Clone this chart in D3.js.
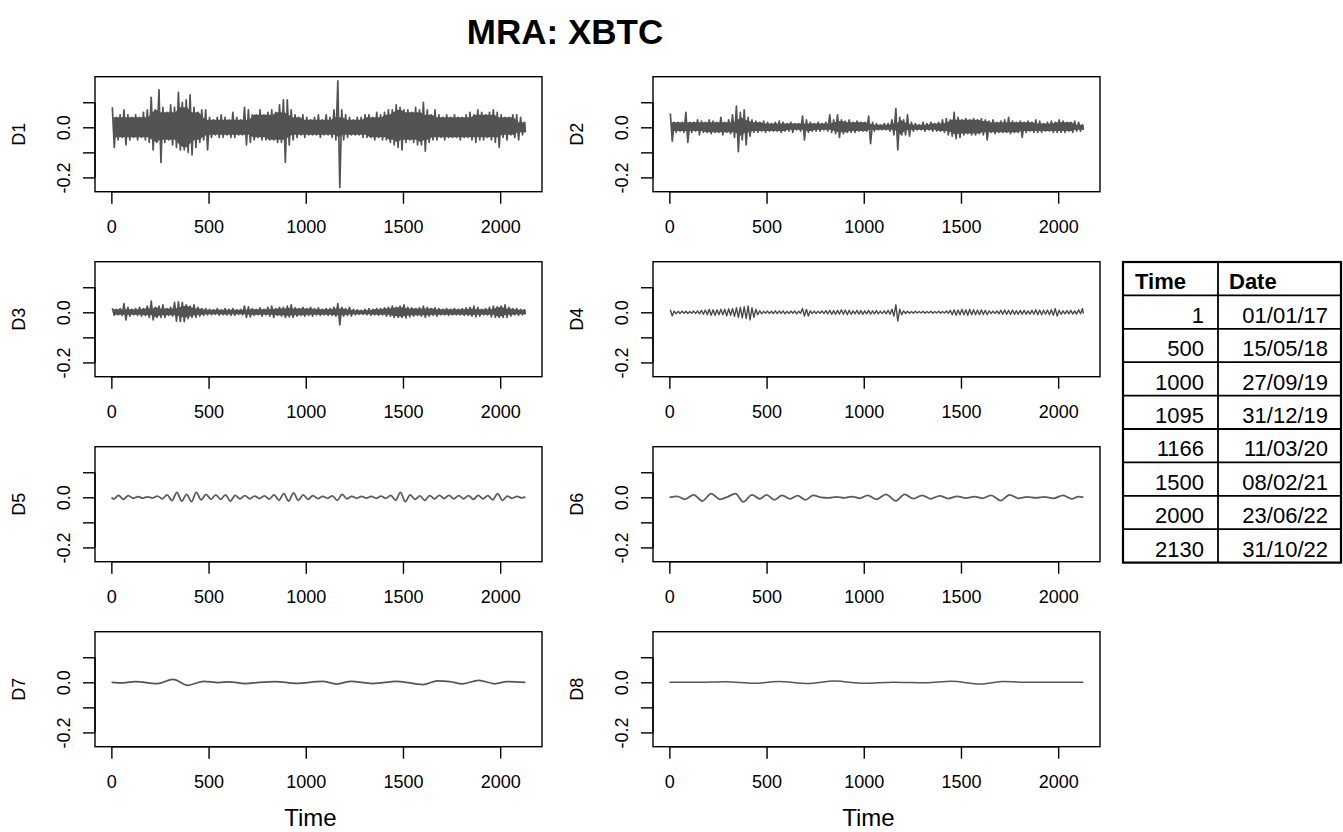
<!DOCTYPE html>
<html>
<head>
<meta charset="utf-8">
<script src="https://cdn.jsdelivr.net/npm/d3@7"></script>
<style>
  body { margin: 0; background: #fff; }
  svg { display: block; }
  text { font-family: "Liberation Sans", Arial, Helvetica, sans-serif; fill: #000; }
</style>
</head>
<body>
<svg id="chart" width="1343" height="832"></svg>
<script>
// ---- data -------------------------------------------------------------
const chartTitle = "MRA: XBTC";
const panelNames = ["D1", "D2", "D3", "D4", "D5", "D6", "D7", "D8"];
const xTicks = [0, 500, 1000, 1500, 2000];
const yTicks = [-0.2, -0.1, 0.0, 0.1];
const yTickLabels = ["-0.2", "", "0.0", ""];
const timeStart = 1, timeEnd = 2130;
const valueMin = -0.24, valueMax = 0.185;   // common y range of all details
const binWidth = 20;                        // D1-D4 stored as per-bin high / low

const d1High = [0.08,0.04,0.05,0.07,0.05,0.04,0.05,0.04,0.06,0.07,
  0.12,0.07,0.15,0.08,0.06,0.09,0.08,0.14,0.10,0.11,
  0.13,0.08,0.06,0.07,0.07,0.04,0.03,0.04,0.05,0.04,
  0.03,0.06,0.04,0.03,0.08,0.07,0.05,0.05,0.07,0.05,
  0.06,0.07,0.06,0.09,0.11,0.11,0.07,0.05,0.04,0.05,
  0.04,0.03,0.04,0.05,0.03,0.05,0.04,0.07,0.185,0.07,
  0.05,0.04,0.03,0.04,0.04,0.05,0.05,0.04,0.06,0.05,
  0.06,0.07,0.07,0.09,0.08,0.07,0.07,0.06,0.08,0.07,
  0.10,0.07,0.05,0.07,0.05,0.04,0.05,0.04,0.05,0.04,
  0.04,0.05,0.06,0.05,0.07,0.06,0.05,0.06,0.07,0.06,
  0.05,0.04,0.04,0.05,0.05,0.04,0.02];
const d1Low = [-0.08,-0.05,-0.04,-0.07,-0.05,-0.04,-0.05,-0.04,-0.05,-0.06,
  -0.09,-0.06,-0.14,-0.06,-0.05,-0.07,-0.08,-0.09,-0.09,-0.10,
  -0.11,-0.08,-0.06,-0.05,-0.09,-0.04,-0.03,-0.04,-0.04,-0.03,
  -0.04,-0.04,-0.03,-0.03,-0.07,-0.06,-0.05,-0.04,-0.05,-0.05,
  -0.05,-0.05,-0.06,-0.06,-0.14,-0.07,-0.05,-0.04,-0.03,-0.04,
  -0.03,-0.03,-0.03,-0.04,-0.03,-0.03,-0.04,-0.05,-0.24,-0.05,
  -0.04,-0.03,-0.03,-0.03,-0.04,-0.04,-0.04,-0.05,-0.04,-0.05,
  -0.05,-0.06,-0.07,-0.08,-0.09,-0.06,-0.05,-0.06,-0.07,-0.07,
  -0.095,-0.06,-0.05,-0.05,-0.04,-0.05,-0.04,-0.04,-0.04,-0.05,
  -0.04,-0.04,-0.05,-0.06,-0.05,-0.05,-0.04,-0.05,-0.06,-0.08,
  -0.04,-0.05,-0.03,-0.04,-0.05,-0.03,-0.02];

const d2High = [0.055,0.02,0.02,0.02,0.06,0.02,0.02,0.03,0.025,0.02,
  0.03,0.025,0.02,0.04,0.02,0.03,0.05,0.085,0.06,0.07,
  0.04,0.03,0.025,0.02,0.025,0.02,0.015,0.02,0.025,0.02,
  0.015,0.02,0.015,0.015,0.045,0.03,0.02,0.015,0.02,0.015,
  0.02,0.05,0.03,0.05,0.03,0.025,0.03,0.02,0.025,0.02,
  0.02,0.045,0.02,0.015,0.01,0.015,0.015,0.03,0.075,0.04,
  0.03,0.05,0.02,0.015,0.01,0.02,0.015,0.02,0.015,0.02,
  0.03,0.035,0.03,0.06,0.04,0.03,0.035,0.03,0.035,0.03,
  0.035,0.03,0.025,0.03,0.02,0.025,0.03,0.04,0.025,0.02,
  0.025,0.02,0.025,0.02,0.03,0.025,0.015,0.02,0.025,0.02,
  0.03,0.025,0.02,0.02,0.025,0.02,0.01];
const d2Low = [-0.055,-0.02,-0.015,-0.02,-0.06,-0.02,-0.015,-0.03,-0.02,-0.02,
  -0.025,-0.02,-0.02,-0.03,-0.02,-0.025,-0.04,-0.097,-0.05,-0.07,
  -0.035,-0.02,-0.02,-0.015,-0.02,-0.015,-0.015,-0.015,-0.02,-0.015,
  -0.015,-0.02,-0.01,-0.015,-0.05,-0.02,-0.015,-0.015,-0.015,-0.01,
  -0.015,-0.02,-0.025,-0.04,-0.025,-0.02,-0.02,-0.02,-0.015,-0.015,
  -0.015,-0.065,-0.015,-0.01,-0.01,-0.01,-0.015,-0.03,-0.09,-0.03,
  -0.03,-0.035,-0.015,-0.01,-0.01,-0.015,-0.01,-0.015,-0.015,-0.015,
  -0.02,-0.03,-0.035,-0.045,-0.04,-0.03,-0.025,-0.03,-0.03,-0.025,
  -0.03,-0.05,-0.02,-0.025,-0.02,-0.02,-0.02,-0.025,-0.02,-0.02,
  -0.04,-0.02,-0.015,-0.02,-0.02,-0.02,-0.015,-0.015,-0.02,-0.02,
  -0.02,-0.02,-0.015,-0.02,-0.015,-0.015,-0.01];

const d3High = [0.016,0.012,0.015,0.035,0.02,0.012,0.015,0.02,0.015,0.025,
  0.045,0.02,0.025,0.03,0.015,0.02,0.04,0.042,0.04,0.03,
  0.025,0.03,0.02,0.015,0.015,0.012,0.01,0.015,0.01,0.015,
  0.012,0.015,0.01,0.012,0.025,0.022,0.015,0.012,0.018,0.012,
  0.02,0.025,0.015,0.02,0.02,0.025,0.03,0.018,0.015,0.02,
  0.015,0.02,0.015,0.018,0.012,0.015,0.015,0.02,0.035,0.02,
  0.015,0.02,0.012,0.01,0.008,0.012,0.015,0.012,0.015,0.015,
  0.018,0.02,0.025,0.02,0.025,0.03,0.02,0.018,0.015,0.018,
  0.025,0.02,0.015,0.018,0.015,0.012,0.015,0.012,0.015,0.012,
  0.015,0.018,0.02,0.025,0.02,0.012,0.015,0.02,0.025,0.022,
  0.025,0.03,0.02,0.015,0.015,0.012,0.01];
const d3Low = [-0.012,-0.01,-0.012,-0.03,-0.015,-0.01,-0.012,-0.015,-0.012,-0.02,
  -0.03,-0.02,-0.02,-0.02,-0.012,-0.015,-0.035,-0.037,-0.037,-0.025,
  -0.02,-0.02,-0.015,-0.012,-0.01,-0.01,-0.008,-0.012,-0.01,-0.01,
  -0.012,-0.012,-0.008,-0.01,-0.02,-0.018,-0.012,-0.01,-0.015,-0.01,
  -0.015,-0.02,-0.012,-0.015,-0.02,-0.018,-0.02,-0.015,-0.012,-0.015,
  -0.012,-0.015,-0.01,-0.012,-0.01,-0.012,-0.012,-0.015,-0.05,-0.015,
  -0.012,-0.015,-0.01,-0.008,-0.008,-0.01,-0.012,-0.01,-0.012,-0.01,
  -0.015,-0.015,-0.02,-0.02,-0.02,-0.022,-0.018,-0.015,-0.012,-0.015,
  -0.02,-0.015,-0.012,-0.015,-0.01,-0.01,-0.012,-0.01,-0.01,-0.01,
  -0.012,-0.012,-0.015,-0.018,-0.015,-0.01,-0.01,-0.018,-0.02,-0.02,
  -0.02,-0.02,-0.015,-0.01,-0.012,-0.01,-0.008];

const d4High = [0.01,0.005,0.004,0.005,0.004,0.003,0.005,0.006,0.008,0.009,
  0.012,0.01,0.01,0.012,0.012,0.014,0.015,0.018,0.02,0.022,
  0.025,0.018,0.012,0.006,0.004,0.005,0.004,0.006,0.005,0.006,
  0.004,0.005,0.005,0.004,0.015,0.012,0.006,0.005,0.004,0.006,
  0.007,0.008,0.007,0.008,0.01,0.009,0.008,0.006,0.008,0.007,
  0.006,0.008,0.006,0.007,0.005,0.006,0.008,0.012,0.03,0.012,
  0.006,0.004,0.003,0.004,0.003,0.004,0.003,0.004,0.003,0.004,
  0.003,0.005,0.008,0.01,0.009,0.012,0.01,0.012,0.01,0.009,
  0.01,0.008,0.006,0.005,0.006,0.008,0.009,0.008,0.009,0.007,
  0.008,0.008,0.006,0.008,0.01,0.009,0.008,0.009,0.01,0.015,
  0.008,0.006,0.007,0.008,0.006,0.01,0.015];
const d4Low = [-0.015,-0.006,-0.005,-0.004,-0.005,-0.004,-0.005,-0.006,-0.008,-0.01,
  -0.012,-0.012,-0.01,-0.01,-0.014,-0.012,-0.016,-0.02,-0.022,-0.025,
  -0.03,-0.02,-0.01,-0.006,-0.004,-0.005,-0.005,-0.005,-0.004,-0.006,
  -0.005,-0.004,-0.006,-0.004,-0.015,-0.015,-0.005,-0.005,-0.004,-0.005,
  -0.006,-0.008,-0.008,-0.007,-0.008,-0.01,-0.008,-0.006,-0.007,-0.008,
  -0.006,-0.007,-0.006,-0.006,-0.005,-0.006,-0.008,-0.015,-0.035,-0.01,
  -0.005,-0.004,-0.004,-0.003,-0.003,-0.004,-0.003,-0.004,-0.003,-0.004,
  -0.003,-0.004,-0.01,-0.012,-0.01,-0.01,-0.012,-0.01,-0.01,-0.01,
  -0.009,-0.01,-0.005,-0.005,-0.006,-0.008,-0.008,-0.009,-0.008,-0.008,
  -0.007,-0.008,-0.007,-0.008,-0.01,-0.01,-0.008,-0.01,-0.012,-0.015,
  -0.008,-0.006,-0.006,-0.007,-0.007,-0.006,-0.005];

// D5-D8: turning points of the smooth details
const d5Times = [1, ...d3.range(12, 2130, 25), 2130];
const d5Values = [0.0,
  -0.007,0.008,-0.008,0.007,-0.004,0.003,-0.003,0.002,-0.003,0.005,
  -0.006,0.01,-0.013,0.02,-0.015,0.012,-0.017,0.02,-0.01,0.012,
  -0.008,0.01,-0.008,0.01,-0.015,0.008,-0.006,0.007,-0.006,0.005,
  -0.005,0.006,-0.007,0.01,-0.012,0.015,-0.015,0.018,-0.012,0.01,
  -0.008,0.007,-0.005,0.004,-0.004,0.006,-0.012,0.012,-0.006,0.004,
  -0.004,0.004,-0.003,0.004,-0.004,0.005,-0.004,0.008,-0.012,0.02,
  -0.017,0.01,-0.008,0.006,-0.012,0.007,-0.006,0.008,-0.005,0.008,
  -0.006,0.007,-0.006,0.007,-0.008,0.008,-0.006,0.007,-0.01,0.015,
  -0.012,0.005,-0.004,0.004,-0.002,
  0.002];

const d6Times = [1,40,80,125,170,215,260,300,340,380,425,465,500,540,580,620,660,700,740,780,
  820,860,900,940,980,1020,1065,1115,1165,1210,1255,1300,1345,1390,1435,1480,1525,1570,1610,1655,
  1705,1750,1795,1840,1885,1930,1975,2025,2070,2105,2130];
const d6Values = [0,0.004,-0.008,0.01,-0.015,0.015,-0.008,0.002,0.015,-0.018,
  0.01,-0.006,0.01,-0.01,0.008,-0.006,0.007,-0.01,0.008,0.0,
  -0.002,0.002,-0.002,0.003,-0.004,0.008,-0.008,0.012,-0.014,0.012,
  -0.005,0.008,-0.006,0.006,-0.005,0.004,-0.003,0.003,-0.004,0.008,
  -0.013,0.01,-0.004,0.002,-0.002,0.002,-0.004,0.008,-0.006,0.003,0];

const d7Times = [1,60,124,235,318,392,475,550,605,688,760,845,950,1085,1159,1233,1344,1470,1603,1677,1740,1807,1890,1973,2035,2130];
const d7Values = [0,-0.002,0.003,-0.005,0.012,-0.012,0.004,-0.001,0.002,-0.005,0.0,0.003,-0.004,0.004,-0.007,0.004,-0.005,0.004,-0.009,0.006,0.003,-0.006,0.008,-0.006,0.003,0];

const d8Times = [1,150,290,434,560,711,850,1000,1150,1320,1450,1600,1720,1850,2000,2130];
const d8Values = [0,0,0.002,-0.004,0.003,-0.005,0.005,-0.004,0,-0.002,0.004,-0.007,0.003,0,0,0];

const tableTimes = [1, 500, 1000, 1095, 1166, 1500, 2000, 2130];
const tableDates = ["01/01/17", "15/05/18", "27/09/19", "31/12/19", "11/03/20", "08/02/21", "23/06/22", "31/10/22"];

// ---- layout -----------------------------------------------------------
const svg = d3.select("#chart");
const panelW = 447, panelH = 115;
const colLeft = [95, 653];
const rowTop = [76.7, 261.7, 446.7, 631.7];

// R-style 4% padding around the data range
const xPad = 0.04 * (timeEnd - timeStart);
const yPad = 0.04 * (valueMax - valueMin);
const x = d3.scaleLinear().domain([timeStart - xPad, timeEnd + xPad]).range([0, panelW]);
const y = d3.scaleLinear().domain([valueMin - yPad, valueMax + yPad]).range([panelH, 0]);

const binStarts = d3.range(0, timeEnd, binWidth);
const binX = (i, f) => Math.min(binStarts[i] + binWidth * f, timeEnd);

// zig-zag through each bin's high and low
function binnedPoints(high, low) {
  const pts = [];
  binStarts.forEach((t, i) => {
    pts.push([binX(i, 0.25), high[i]]);
    pts.push([binX(i, 0.75), low[i]]);
  });
  return pts;
}
// dense core of a binned series: the band that every nearby bin reaches
function binnedCore(high, low, reach) {
  return binStarts.map((t, i) => {
    const nb = d3.range(i - reach, i + reach + 1).filter(j => j >= 0 && j < binStarts.length);
    return [binX(i, 0.5), d3.max(nb, j => low[j]), d3.min(nb, j => high[j])];
  });
}
const zipPoints = (ts, vs) => ts.map((t, i) => [t, vs[i]]);

const series = [
  { pts: binnedPoints(d1High, d1Low), core: binnedCore(d1High, d1Low, 2), curve: d3.curveLinear, w: 1.7, c: "#535353" },
  { pts: binnedPoints(d2High, d2Low), core: binnedCore(d2High, d2Low, 2), curve: d3.curveLinear, w: 1.7, c: "#535353" },
  { pts: binnedPoints(d3High, d3Low), core: binnedCore(d3High, d3Low, 2), curve: d3.curveLinear, w: 1.7, c: "#535353" },
  { pts: binnedPoints(d4High, d4Low), curve: d3.curveLinear, w: 1.4, c: "#4a4a4a" },
  { pts: zipPoints(d5Times, d5Values), curve: d3.curveMonotoneX, w: 1.8, c: "#5c5c5c" },
  { pts: zipPoints(d6Times, d6Values), curve: d3.curveMonotoneX, w: 1.8, c: "#5c5c5c" },
  { pts: zipPoints(d7Times, d7Values), curve: d3.curveMonotoneX, w: 1.7, c: "#555555" },
  { pts: zipPoints(d8Times, d8Values), curve: d3.curveMonotoneX, w: 1.5, c: "#555555" }
];

// title
svg.append("text")
  .attr("x", 565).attr("y", 44)
  .attr("text-anchor", "middle")
  .style("font-size", "35px").style("font-weight", "bold")
  .text(chartTitle);

panelNames.forEach((name, i) => {
  const col = i % 2, row = Math.floor(i / 2);
  const s = series[i];
  const g = svg.append("g").attr("transform", `translate(${colLeft[col]},${rowTop[row]})`);

  // solid core of the dense series
  if (s.core) {
    const area = d3.area().x(d => x(d[0])).y0(d => y(d[1])).y1(d => y(d[2]));
    g.append("path").datum(s.core).attr("d", area).attr("fill", s.c);
  }

  // series line
  const line = d3.line().x(d => x(d[0])).y(d => y(d[1])).curve(s.curve);
  g.append("path")
    .datum(s.pts)
    .attr("d", line)
    .attr("fill", "none")
    .attr("stroke", s.c)
    .attr("stroke-width", s.w)
    .attr("stroke-linejoin", "round");

  // box
  g.append("rect")
    .attr("x", 0).attr("y", 0).attr("width", panelW).attr("height", panelH)
    .attr("fill", "none").attr("stroke", "#000").attr("stroke-width", 1.4);

  // x axis
  const xa = g.append("g").attr("transform", `translate(0,${panelH})`)
    .call(d3.axisBottom(x).tickValues(xTicks).tickSize(12).tickPadding(16.5).tickFormat(d3.format("d")));
  xa.select(".domain").remove();
  xa.append("line")
    .attr("x1", x(xTicks[0])).attr("x2", x(xTicks[xTicks.length - 1]))
    .attr("stroke", "#000").attr("stroke-width", 1.4);
  xa.selectAll(".tick line").attr("stroke", "#000").attr("stroke-width", 1.4);
  xa.selectAll(".tick text").style("font-size", "18px").attr("fill", "#111");

  // y axis
  const ya = g.append("g")
    .call(d3.axisLeft(y).tickValues(yTicks).tickSize(12).tickFormat((d, k) => yTickLabels[k]));
  ya.select(".domain").remove();
  ya.append("line")
    .attr("y1", y(yTicks[0])).attr("y2", y(yTicks[yTicks.length - 1]))
    .attr("stroke", "#000").attr("stroke-width", 1.4);
  ya.selectAll(".tick line").attr("stroke", "#000").attr("stroke-width", 1.4);
  ya.selectAll(".tick text")
    .attr("x", null).attr("dy", null)
    .attr("text-anchor", "middle")
    .attr("transform", "translate(-25,0) rotate(-90)")
    .style("font-size", "18px").attr("fill", "#111");

  // panel label
  g.append("text")
    .attr("transform", `translate(-70,${panelH / 2}) rotate(-90)`)
    .attr("text-anchor", "middle")
    .style("font-size", "18px").attr("fill", "#111")
    .text(name);

  // Time label under the bottom row
  if (row === 3) {
    g.append("text")
      .attr("x", panelW / 2 - 8).attr("y", panelH + 79)
      .attr("text-anchor", "middle")
      .style("font-size", "24px").attr("fill", "#111")
      .text("Time");
  }
});

// ---- Time / Date lookup table ----------------------------------------
const tbl = { left: 1123, mid: 1218, right: 1341, top: 262, rowH: 33.4 };
const tg = svg.append("g");
const nRows = tableTimes.length + 1;
const tBottom = tbl.top + nRows * tbl.rowH;

d3.range(1, nRows).forEach(r => {
  tg.append("line")
    .attr("x1", tbl.left).attr("x2", tbl.right)
    .attr("y1", tbl.top + r * tbl.rowH).attr("y2", tbl.top + r * tbl.rowH)
    .attr("stroke", "#000").attr("stroke-width", 1.8);
});
tg.append("line")
  .attr("x1", tbl.mid).attr("x2", tbl.mid)
  .attr("y1", tbl.top).attr("y2", tBottom)
  .attr("stroke", "#000").attr("stroke-width", 1.8);
tg.append("rect")
  .attr("x", tbl.left).attr("y", tbl.top)
  .attr("width", tbl.right - tbl.left).attr("height", tBottom - tbl.top)
  .attr("fill", "none").attr("stroke", "#000").attr("stroke-width", 2.2);

tg.append("text").attr("x", tbl.left + 12).attr("y", tbl.top + tbl.rowH - 6)
  .style("font-size", "22px").style("font-weight", "bold").text("Time");
tg.append("text").attr("x", tbl.mid + 11).attr("y", tbl.top + tbl.rowH - 6)
  .style("font-size", "22px").style("font-weight", "bold").text("Date");

tableTimes.forEach((t, r) => {
  const by = tbl.top + (r + 2) * tbl.rowH - 6;
  tg.append("text").attr("x", tbl.mid - 14).attr("y", by)
    .attr("text-anchor", "end").style("font-size", "22px").text(t);
  tg.append("text").attr("x", tbl.right - 13).attr("y", by)
    .attr("text-anchor", "end").style("font-size", "22px").text(tableDates[r]);
});
</script>
</body>
</html>
